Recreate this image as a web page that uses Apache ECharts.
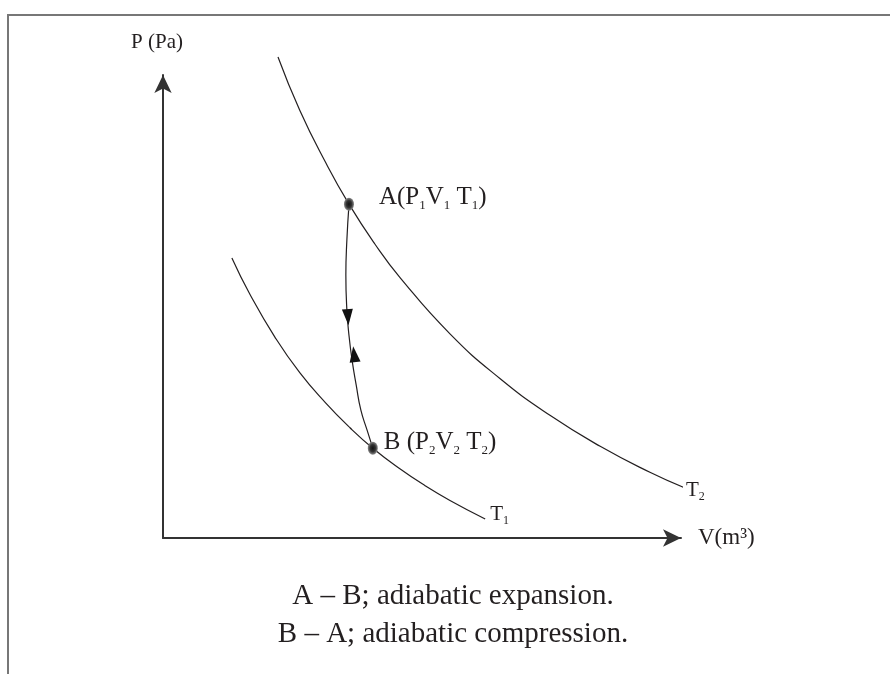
<!DOCTYPE html>
<html><head><meta charset="utf-8">
<script src="https://cdn.jsdelivr.net/npm/echarts@6/dist/echarts.min.js"></script>
<style>html,body{margin:0;padding:0;background:#fff}#c{width:890px;height:674px}</style>
</head><body><div id="c"></div>
<script>
// Isotherm T2 (upper curve)
const isoT2_V = [2.22, 2.64, 3.13, 3.59, 4.09, 4.58, 5.54, 6.51, 7.47, 8.44, 9.40, 10.08];
const isoT2_P = [10.39, 9.24, 8.13, 7.21, 6.35, 5.62, 4.41, 3.44, 2.65, 1.98, 1.42, 1.08];
// Isotherm T1 (lower curve)
const isoT1_V = [1.33, 1.68, 2.16, 2.64, 3.13, 3.61, 4.05, 4.58, 5.06, 5.54, 6.22];
const isoT1_P = [6.05, 5.26, 4.34, 3.57, 2.93, 2.38, 1.94, 1.49, 1.13, 0.81, 0.41];
// Adiabatic path A -> B
const adiab_V = [3.59, 3.55, 3.53, 3.55, 3.59, 3.65, 3.73, 3.82, 3.94, 4.05];
const adiab_P = [7.19, 6.44, 5.68, 4.92, 4.38, 3.84, 3.30, 2.76, 2.33, 1.94];
// State points
const stateNames = ['A', 'B'];
const stateV = [3.59, 4.05];
const stateP = [7.21, 1.94];
// Direction arrowheads on the adiabat
const arrowDown = [3.57, 4.77];
const arrowUp = [3.69, 3.97];
// Text
const yAxisName = 'P (Pa)';
const xAxisName = 'V(m\u00b3)';
const captionLines = ['A \u2013 B; adiabatic expansion.', 'B \u2013 A; adiabatic compression.'];

const zip = (a, b) => a.map((v, i) => [v, b[i]]);
const FONT = '"Liberation Serif", "Times New Roman", serif';
const INK = '#231f20';

const stateLabels = {
  A: '{m|A(P}{s|1}{m|V}{s|1}{m| T}{s|1}{m|)}',
  B: '{m|B (P}{s|2}{m|V}{s|2}{m| T}{s|2}{m|)}'
};
const richSub = {
  m: { fontFamily: FONT, fontSize: 25, lineHeight: 30, color: INK, opacity: 1 },
  s: { fontFamily: FONT, fontSize: 13, lineHeight: 12, color: INK, opacity: 1, verticalAlign: 'bottom' }
};
const richT = {
  m: { fontFamily: FONT, fontSize: 21, lineHeight: 26, color: INK },
  s: { fontFamily: FONT, fontSize: 12, lineHeight: 11, color: INK, verticalAlign: 'bottom' }
};

const chart = echarts.init(document.getElementById('c'), null, { renderer: 'canvas' });
chart.setOption({
  animation: false,
  backgroundColor: '#fff',
  title: {
    text: captionLines.join('\n'),
    left: 453, top: 577, textAlign: 'center', padding: 0,
    textStyle: { fontFamily: FONT, fontSize: 29, fontWeight: 'normal', lineHeight: 38, color: INK }
  },
  graphic: [{
    type: 'polyline', silent: true,
    shape: { points: [[8, 674], [8, 15], [890, 15]] },
    style: { stroke: '#777', lineWidth: 2, fill: null }
  }],
  grid: { left: 163, right: 209, top: 75, bottom: 136 },
  xAxis: {
    type: 'value', min: 0, max: 10,
    name: xAxisName, nameLocation: 'end', nameGap: 17,
    nameTextStyle: { fontFamily: FONT, fontSize: 23, color: INK, padding: [0, 0, 6, 0] },
    axisLine: { show: true, symbol: ['none', 'arrow'], symbolSize: [13, 18], lineStyle: { color: '#333', width: 2 } },
    axisTick: { show: false }, axisLabel: { show: false }, splitLine: { show: false }
  },
  yAxis: {
    type: 'value', min: 0, max: 10,
    name: yAxisName, nameLocation: 'end', nameGap: 22,
    nameTextStyle: { fontFamily: FONT, fontSize: 21, color: INK, align: 'center', padding: [0, 12, 0, 0] },
    axisLine: { show: true, symbol: ['none', 'arrow'], symbolSize: [13, 18], lineStyle: { color: '#333', width: 2 } },
    axisTick: { show: false }, axisLabel: { show: false }, splitLine: { show: false }
  },
  series: [
    {
      type: 'line', name: 'T2', data: zip(isoT2_V, isoT2_P), smooth: true, showSymbol: false, clip: false,
      lineStyle: { color: INK, width: 1.2 },
      endLabel: { show: true, formatter: '{m|T}{s|2}', distance: 3, offset: [0, 3], rich: richT }
    },
    {
      type: 'line', name: 'T1', data: zip(isoT1_V, isoT1_P), smooth: true, showSymbol: false, clip: false,
      lineStyle: { color: INK, width: 1.2 },
      endLabel: { show: true, formatter: '{m|T}{s|1}', distance: 5, offset: [0, -5], rich: richT }
    },
    {
      type: 'line', name: 'adiabat', data: zip(adiab_V, adiab_P), smooth: true, showSymbol: false, clip: false,
      lineStyle: { color: INK, width: 1.2 }
    },
    {
      type: 'scatter', name: 'arrows', z: 5, clip: false,
      data: [
        { value: arrowDown, symbolRotate: 184 },
        { value: arrowUp, symbolRotate: 7 }
      ],
      symbol: 'triangle', symbolSize: [11, 16],
      itemStyle: { color: '#111', opacity: 1 }
    },
    {
      type: 'scatter', name: 'states', z: 6, clip: false,
      data: stateNames.map((n, i) => ({
        name: n, value: [stateV[i], stateP[i]],
        label: { distance: n === 'A' ? 25 : 6, offset: [0, n === 'A' ? -7 : -6] }
      })),
      symbol: 'circle', symbolSize: [10, 13],
      itemStyle: {
        opacity: 1,
        color: { type: 'radial', x: 0.5, y: 0.5, r: 0.5,
          colorStops: [{ offset: 0, color: '#111' }, { offset: 0.55, color: '#333' }, { offset: 1, color: '#8a8a8a' }] }
      },
      label: {
        show: true, position: 'right', color: INK, opacity: 1,
        formatter: p => stateLabels[p.name],
        rich: richSub
      }
    }
  ]
});
</script>
</body></html>
